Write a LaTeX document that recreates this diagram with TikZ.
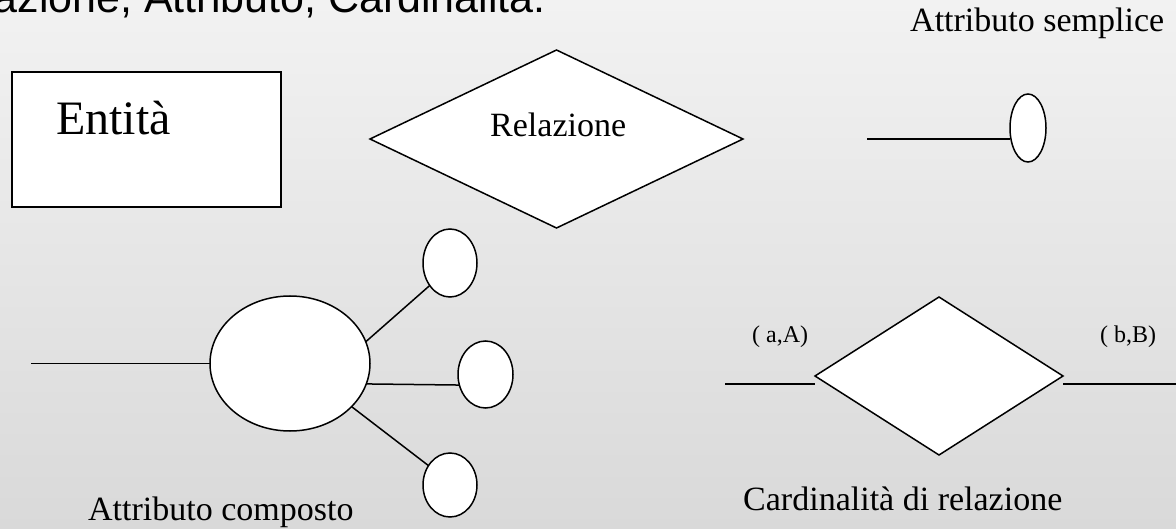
\documentclass[tikz,border=0pt]{standalone}
\usepackage{fontspec}
\setmainfont{Liberation Serif}
\newfontfamily\sansf{Liberation Sans}
\usetikzlibrary{shapes.geometric}
\definecolor{bgtop}{RGB}{242,242,242}
\definecolor{bgbot}{RGB}{217,217,217}
\begin{document}
\begin{tikzpicture}[x=1pt,y=-1pt,
  shp/.style={draw=black,fill=white,line width=1.5pt,inner sep=0pt,outer sep=0pt},
  lnk/.style={draw=black,line width=1.5pt},
  oval/.style={shp,ellipse},
  rhomb/.style={shp,diamond},
  lbl/.style={inner sep=0pt,anchor=base west,text=black},
  big/.style={font=\fontsize{34}{40}\selectfont},
  small/.style={font=\fontsize{24}{28}\selectfont}]
\useasboundingbox (0pt,0pt) rectangle (1176pt,-529pt);
\shade[top color=bgtop,bottom color=bgbot] (0pt,0pt) rectangle (1176pt,-529pt);
\begin{scope}
\clip (0pt,0pt) rectangle (1176pt,-529pt);
\node[inner sep=0pt,anchor=base east,font=\sansf\fontsize{43}{50}\selectfont] (title) at (546,13) {Relazione, Attributo, Cardinalità:};
\end{scope}
% Entita
\node[shp,rectangle,minimum width=269pt,minimum height=135pt] (ent) at (146.5,139.5) {};
\node[lbl,font=\fontsize{48}{56}\selectfont] (entl) at (56,135) {Entità};
% Relazione
\node[rhomb,minimum width=373pt,minimum height=178pt] (rel) at (556.5,139) {};
\node[lbl,big] (rell) at (490,137) {Relazione};
% Attributo semplice
\node[lbl,big] (sal) at (910,32) {Attributo semplice};
\node[oval,minimum width=36pt,minimum height=68pt] (sa) at (1028,128) {};
\coordinate (sa0) at (867,139);
\draw[lnk] (sa0) -- (sa0 -| sa.west);
% Attributo composto
\node[oval,minimum width=160pt,minimum height=135pt] (ca) at (290,363.5) {};
\node[oval,minimum width=54pt,minimum height=68pt] (c1) at (450,263) {};
\node[oval,minimum width=55pt,minimum height=67pt] (c2) at (485.5,374.5) {};
\node[oval,minimum width=54pt,minimum height=64pt] (c3) at (450,485) {};
\coordinate (ca0) at (31,363.5);
\draw[lnk] (ca0) -- (ca.west);
\draw[lnk] (ca.16) -- (c1.228);
\draw[lnk] (ca.-15.8) -- (c2.202);
\draw[lnk] (ca.-35.7) -- (c3.138);
\node[lbl,big] (cal) at (88,520) {Attributo composto};
% Cardinalita
\node[rhomb,minimum width=248pt,minimum height=158pt] (cd) at (939,376) {};
\coordinate (cdl) at (725,384);
\coordinate (cdr) at (1176,384);
\draw[lnk] (cdl) -- (cdl -| cd.west);
\draw[lnk] (cd.east |- cdr) -- (cdr);
\node[lbl,small] (cda) at (752,343) {( a,A)};
\node[lbl,small] (cdb) at (1100,343) {( b,B)};
\node[lbl,big] (cdt) at (743,510) {Cardinalità di relazione};
\end{tikzpicture}
\end{document}
